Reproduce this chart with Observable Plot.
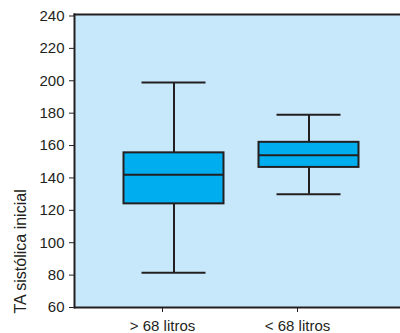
<!DOCTYPE html>
<html>
<head>
<meta charset="utf-8">
<script src="https://cdn.jsdelivr.net/npm/d3@7"></script>
<script src="https://cdn.jsdelivr.net/npm/@observablehq/plot@0.6"></script>
<style>
  html, body { margin: 0; padding: 0; background: #fff; }
</style>
</head>
<body>
<div id="chart"></div>
<script>
const categories = ["> 68 litros", "< 68 litros"];
const mins = [81.5, 130];
const q1s = [124, 146.5];
const medians = [142, 154];
const q3s = [155.5, 162];
const maxs = [199, 179];
const yTicks = [60, 80, 100, 120, 140, 160, 180, 200, 220, 240];
const yLabel = "TA sistólica inicial";

const data = categories.map((c, i) => ({
  cat: c, min: mins[i], q1: q1s[i], median: medians[i], q3: q3s[i], max: maxs[i]
}));

const ink = "#231f20";
const off = 11.5;

const chart = Plot.plot({
  width: 400,
  height: 333,
  marginLeft: 74,
  marginTop: 14,
  marginRight: 0,
  marginBottom: 26,
  style: { fontFamily: "'Liberation Sans', Arial, sans-serif", fontSize: "15px", color: ink, background: "#fff" },
  x: { domain: categories, range: [111.5, 346.5], paddingInner: 0.2593, paddingOuter: 0, axis: null },
  y: { domain: [60, 240], range: [307, 15.5], axis: null },
  marks: [
    Plot.frame({ fill: "#c7e8fa", stroke: null }),
    Plot.ruleX(data, { x: "cat", y1: "min", y2: "q1", stroke: ink, strokeWidth: 2, dx: off }),
    Plot.ruleX(data, { x: "cat", y1: "q3", y2: "max", stroke: ink, strokeWidth: 2, dx: off }),
    Plot.barY(data, { x: "cat", y1: "q1", y2: "q3", fill: "#00aeef", stroke: ink, strokeWidth: 2, dx: off }),
    Plot.tickY(data, { x: "cat", y: "median", stroke: ink, strokeWidth: 2, dx: off }),
    Plot.tickY(data, { x: "cat", y: "max", stroke: ink, strokeWidth: 2, insetLeft: 18, insetRight: 18, dx: off }),
    Plot.tickY(data, { x: "cat", y: "min", stroke: ink, strokeWidth: 2, insetLeft: 18, insetRight: 18, dx: off }),
    Plot.frame({ anchor: "top", stroke: ink, strokeWidth: 2 }),
    Plot.frame({ anchor: "left", stroke: ink, strokeWidth: 2 }),
    Plot.ruleY([60], { stroke: ink, strokeWidth: 2 }),
    Plot.axisY({ ticks: yTicks, tickSize: 5, tickPadding: 5, label: null, stroke: ink, fill: ink, fontSize: 15 }),
    Plot.axisX({ tickSize: 5, tickPadding: 8, label: null, stroke: ink, fill: ink, fontSize: 15 }),
    Plot.text([yLabel], { frameAnchor: "bottom-left", rotate: -90, textAnchor: "start", dx: -49, dy: 6, fill: ink, fontSize: 16 })
  ]
});
document.getElementById("chart").appendChild(chart);
</script>
</body>
</html>
